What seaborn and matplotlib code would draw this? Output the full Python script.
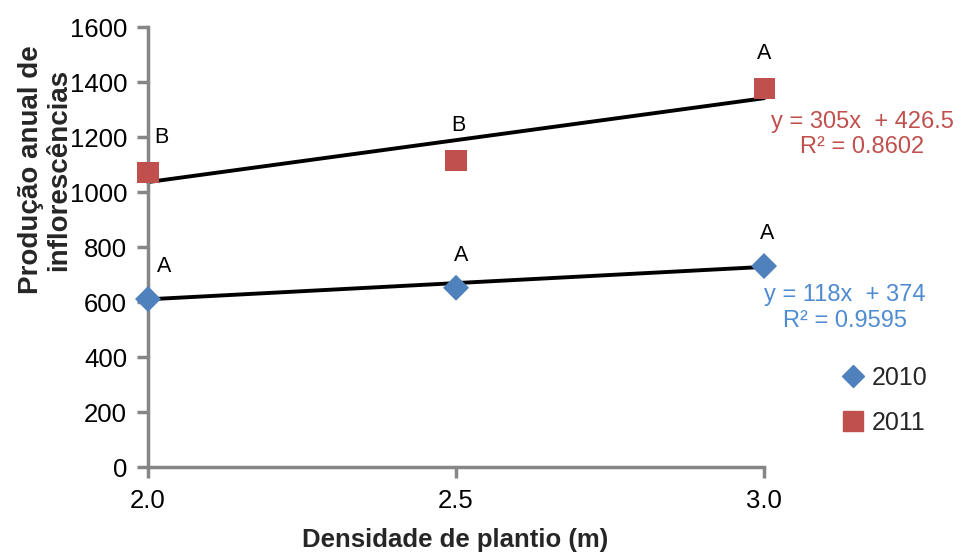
import matplotlib
matplotlib.use("Agg")
import matplotlib.pyplot as plt
import numpy as np
import pandas as pd
import seaborn as sns
from matplotlib.lines import Line2D

# values
densidade = [2.0, 2.5, 3.0]
prod_2010 = [611, 652, 731]
prod_2011 = [1072, 1116, 1377]
letras_2010 = ["A", "A", "A"]
letras_2011 = ["B", "B", "A"]
# trend line coefficients (slope, intercept, R2) shown on the chart
coef_2010 = (118, 374, 0.9595)
coef_2011 = (305, 426.5, 0.8602)

RED = "#C0504D"
BLUE = "#4F81BD"
BLUE_TXT = "#4F8BD0"
GREY = "#868686"

sns.set_theme(style="white")
plt.rcParams["font.family"] = ["Liberation Sans", "DejaVu Sans"]

data = pd.DataFrame({
    "densidade": densidade * 2,
    "producao": prod_2010 + prod_2011,
    "ano": ["2010"] * 3 + ["2011"] * 3,
})
trend = pd.DataFrame({
    "densidade": densidade * 2,
    "producao": [coef_2010[0] * x + coef_2010[1] for x in densidade]
                + [coef_2011[0] * x + coef_2011[1] for x in densidade],
    "ano": ["2010"] * 3 + ["2011"] * 3,
})

fig = plt.figure(figsize=(9.63, 5.54), dpi=100)
ax = fig.add_axes([0.1537, 0.157, 0.6397, 0.794])

sns.lineplot(data=trend, x="densidade", y="producao", units="ano", estimator=None,
             color="black", linewidth=2.8, ax=ax, legend=False, clip_on=False)
sns.scatterplot(data=data, x="densidade", y="producao", hue="ano", style="ano",
                size="ano", sizes={"2010": 175, "2011": 230},
                palette={"2010": BLUE, "2011": RED}, markers={"2010": "D", "2011": "s"},
                edgecolor="none", ax=ax, legend=False, clip_on=False, zorder=3)

# significance letters
dx_letras = [13, 2, 0]
for x, y, l, dx in zip(densidade, prod_2010, letras_2010, dx_letras):
    ax.annotate(l, (x, y), xytext=(dx + 3, 22), textcoords="offset pixels",
                ha="center", va="bottom", fontsize=15.5, color="black")
for x, y, l, dx in zip(densidade, prod_2011, letras_2011, dx_letras):
    ax.annotate(l, (x, y), xytext=(dx, 24), textcoords="offset pixels",
                ha="center", va="bottom", fontsize=15.5, color="black")

# regression equations
for coef, color, off in [(coef_2011, RED, (98, -36)), (coef_2010, BLUE_TXT, (81, -41))]:
    ax.annotate("y = {}x  + {}\nR² = {}".format(coef[0], coef[1], coef[2]),
                (3.0, coef[0] * 3.0 + coef[1]), xytext=off, textcoords="offset pixels",
                ha="center", va="center", multialignment="center",
                fontsize=17, color=color, linespacing=1.2, annotation_clip=False)

ax.set_xlim(2.0, 3.0)
ax.set_ylim(0, 1600)
ax.set_xticks([2.0, 2.5, 3.0])
ax.set_xticklabels(["2.0", "2.5", "3.0"])
ax.set_yticks(range(0, 1601, 200))

for side in ["top", "right"]:
    ax.spines[side].set_visible(False)
for side in ["left", "bottom"]:
    ax.spines[side].set_color(GREY)
    ax.spines[side].set_linewidth(2.5)
ax.tick_params(axis="both", which="both", direction="out", length=8, width=2.5,
               color=GREY, labelsize=18.5, labelcolor="black", left=True, bottom=True)
ax.tick_params(axis="x", pad=8)
ax.tick_params(axis="y", pad=7)

ax.set_xlabel("")
ax.set_ylabel("")
fig.text(455 / 963, 1 - 540 / 554, "Densidade de plantio (m)", fontsize=18.5,
         fontweight="bold", ha="center", va="center")
fig.text(45 / 963, 1 - 170 / 554, "Produção anual de\ninflorescências", fontsize=20,
         fontweight="bold", ha="center", va="center", rotation=90,
         multialignment="center", linespacing=1.1)

handles = [
    Line2D([], [], marker="D", linestyle="none", color=BLUE, markersize=11),
    Line2D([], [], marker="s", linestyle="none", color=RED, markersize=14),
]
fig.legend(handles, ["2010", "2011"], loc="upper left", bbox_to_anchor=(0.873, 0.34),
           frameon=False, fontsize=18, handlelength=1.0, handletextpad=0.25,
           labelspacing=0.85, borderaxespad=0, borderpad=0)

fig.savefig("out.png", dpi=100)
